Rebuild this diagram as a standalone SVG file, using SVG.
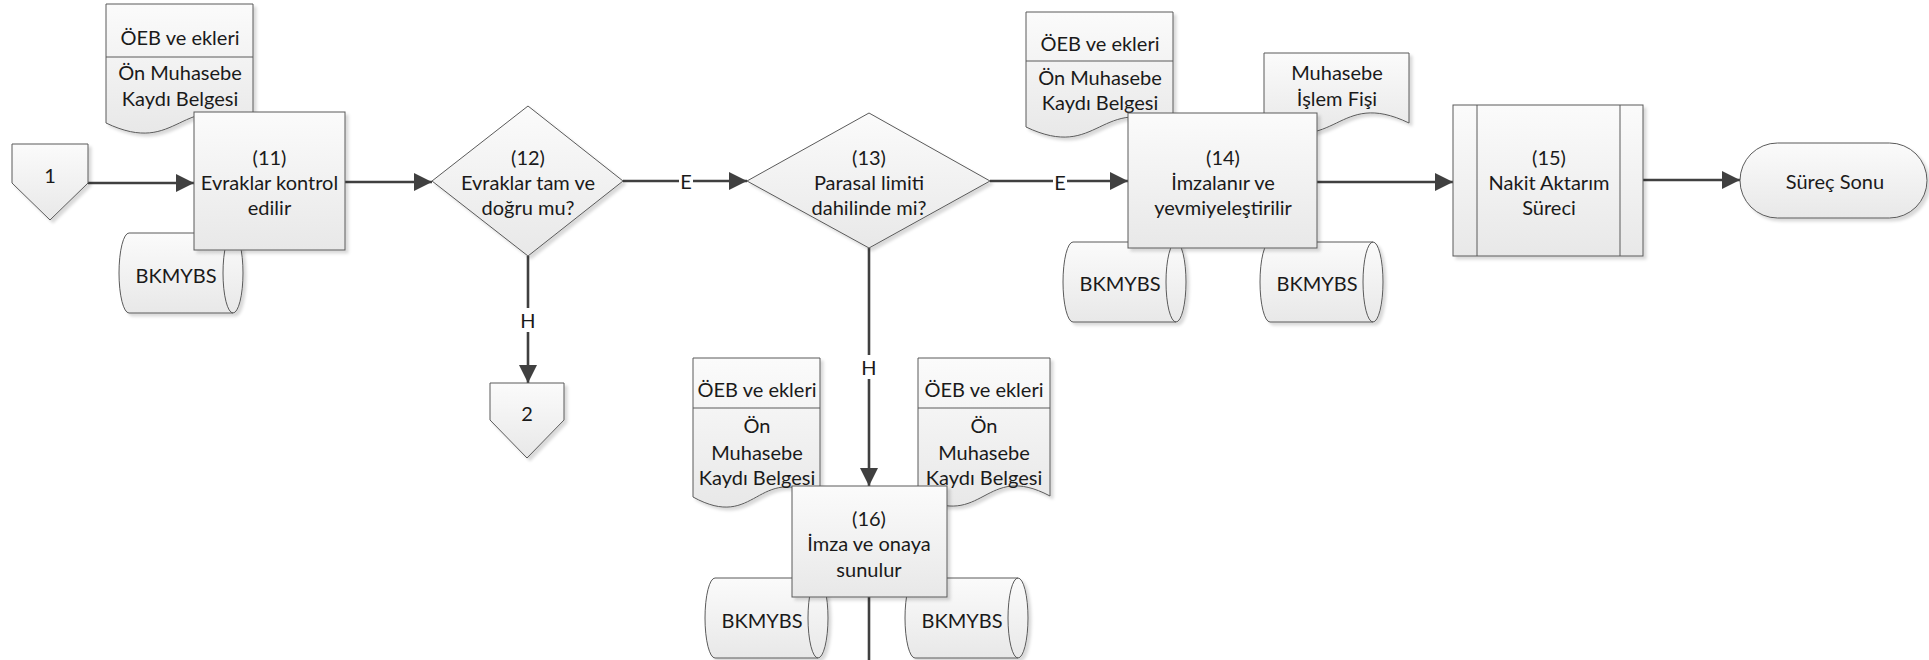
<svg xmlns="http://www.w3.org/2000/svg" width="1929" height="660" viewBox="0 0 1929 660">
<defs>
<linearGradient id="g" x1="0" y1="0" x2="0" y2="1">
<stop offset="0" stop-color="#fbfbfb"/>
<stop offset="1" stop-color="#e8e8e8"/>
</linearGradient>
<filter id="sh" x="-10%" y="-10%" width="130%" height="130%">
<feDropShadow dx="3" dy="3" stdDeviation="1.5" flood-color="#000" flood-opacity="0.15"/>
</filter>
<marker id="ah" viewBox="0 0 10 10" refX="10" refY="5" markerUnits="userSpaceOnUse" markerWidth="19" markerHeight="18" orient="auto">
<path d="M0,0 L10,5 L0,10 Z" fill="#404040"/>
</marker>
<style>
.s{fill:url(#g);stroke:#5a5a5a;stroke-width:1;filter:url(#sh)}
.ln{fill:none;stroke:#5a5a5a;stroke-width:1}
.t{font-family:Lato,"Liberation Sans",sans-serif;font-size:20px;fill:#1a1a1a;text-anchor:middle;dominant-baseline:central}
.c{fill:none;stroke:#404040;stroke-width:2.6}
.lb{fill:#ffffff}
</style>
</defs>

<!-- documents (behind boxes) -->
<g id="doc-oeb-11">
<path class="s" d="M106,4 H253 V123 C179.5,88 179.5,158 106,123 Z"/>
<line class="ln" x1="106" y1="57" x2="253" y2="57"/>
<text class="t" x="180" y="37">ÖEB ve ekleri</text>
<text class="t" x="180" y="72">Ön Muhasebe</text>
<text class="t" x="180" y="98">Kaydı Belgesi</text>
</g>
<g id="doc-oeb-14">
<path class="s" d="M1026,12 H1173 V127 C1099.5,92 1099.5,162 1026,127 Z"/>
<line class="ln" x1="1026" y1="61" x2="1173" y2="61"/>
<text class="t" x="1100" y="43">ÖEB ve ekleri</text>
<text class="t" x="1100" y="77">Ön Muhasebe</text>
<text class="t" x="1100" y="102">Kaydı Belgesi</text>
</g>
<g id="doc-muhasebe-fis">
<path class="s" d="M1264,53 H1409 V123 C1336.5,88 1336.5,158 1264,123 Z"/>
<text class="t" x="1337" y="72">Muhasebe</text>
<text class="t" x="1337" y="98">İşlem Fişi</text>
</g>
<g id="doc-oeb-16a">
<path class="s" d="M693,358 H820 V497 C756.5,462 756.5,532 693,497 Z"/>
<line class="ln" x1="693" y1="408" x2="820" y2="408"/>
<text class="t" x="757" y="389">ÖEB ve ekleri</text>
<text class="t" x="757" y="425">Ön</text>
<text class="t" x="757" y="452">Muhasebe</text>
<text class="t" x="757" y="477">Kaydı Belgesi</text>
</g>
<g id="doc-oeb-16b">
<path class="s" d="M918,358 H1050 V496 C984,461 984,531 918,496 Z"/>
<line class="ln" x1="918" y1="408" x2="1050" y2="408"/>
<text class="t" x="984" y="389">ÖEB ve ekleri</text>
<text class="t" x="984" y="425">Ön</text>
<text class="t" x="984" y="452">Muhasebe</text>
<text class="t" x="984" y="477">Kaydı Belgesi</text>
</g>

<!-- databases -->
<g id="db-11">
<path class="s" d="M129,233 L233,233 A10,40 0 0 1 233,313 L129,313 A10,40 0 0 1 129,233 Z"/>
<path class="ln" d="M233,233 A10,40 0 0 0 233,313"/>
<text class="t" x="176" y="275">BKMYBS</text>
</g>
<g id="db-14a">
<path class="s" d="M1073,242 L1176,242 A10,40 0 0 1 1176,322 L1073,322 A10,40 0 0 1 1073,242 Z"/>
<path class="ln" d="M1176,242 A10,40 0 0 0 1176,322"/>
<text class="t" x="1120" y="283">BKMYBS</text>
</g>
<g id="db-14b">
<path class="s" d="M1270,242 L1373,242 A10,40 0 0 1 1373,322 L1270,322 A10,40 0 0 1 1270,242 Z"/>
<path class="ln" d="M1373,242 A10,40 0 0 0 1373,322"/>
<text class="t" x="1317" y="283">BKMYBS</text>
</g>
<g id="db-16a">
<path class="s" d="M715,578 L818,578 A10,40 0 0 1 818,658 L715,658 A10,40 0 0 1 715,578 Z"/>
<path class="ln" d="M818,578 A10,40 0 0 0 818,658"/>
<text class="t" x="762" y="620">BKMYBS</text>
</g>
<g id="db-16b">
<path class="s" d="M915,578 L1018,578 A10,40 0 0 1 1018,658 L915,658 A10,40 0 0 1 915,578 Z"/>
<path class="ln" d="M1018,578 A10,40 0 0 0 1018,658"/>
<text class="t" x="962" y="620">BKMYBS</text>
</g>

<!-- connectors -->
<g id="connectors">
<line class="c" x1="88" y1="183" x2="194" y2="183" marker-end="url(#ah)"/>
<line class="c" x1="345" y1="182" x2="432" y2="182" marker-end="url(#ah)"/>
<line class="c" x1="623" y1="181" x2="747" y2="181" marker-end="url(#ah)"/>
<line class="c" x1="528" y1="256" x2="528" y2="383" marker-end="url(#ah)"/>
<line class="c" x1="990" y1="181" x2="1128" y2="181" marker-end="url(#ah)"/>
<line class="c" x1="869" y1="248" x2="869" y2="486" marker-end="url(#ah)"/>
<line class="c" x1="1317" y1="182" x2="1453" y2="182" marker-end="url(#ah)"/>
<line class="c" x1="1643" y1="180" x2="1740" y2="180" marker-end="url(#ah)"/>
<line class="c" x1="869" y1="597" x2="869" y2="662"/>
<rect class="lb" x="679" y="170" width="14" height="22"/>
<text class="t" x="686" y="181">E</text>
<rect class="lb" x="1053" y="170" width="14" height="22"/>
<text class="t" x="1060" y="182">E</text>
<rect class="lb" x="520" y="308" width="16" height="24"/>
<text class="t" x="528" y="320">H</text>
<rect class="lb" x="861" y="355" width="16" height="24"/>
<text class="t" x="869" y="367">H</text>
</g>

<!-- flow nodes -->
<g id="offpage-1">
<path class="s" d="M12,144 H88 V183 L50,220 L12,183 Z"/>
<text class="t" x="50" y="175">1</text>
</g>
<g id="process-11">
<rect class="s" x="194" y="112" width="151" height="138"/>
<text class="t" x="269.5" y="157">(11)</text>
<text class="t" x="269.5" y="182">Evraklar kontrol</text>
<text class="t" x="269.5" y="207">edilir</text>
</g>
<g id="decision-12">
<path class="s" d="M432,181 L528,106 L623,181 L528,256 Z"/>
<text class="t" x="528" y="157">(12)</text>
<text class="t" x="528" y="182">Evraklar tam ve</text>
<text class="t" x="528" y="207">doğru mu?</text>
</g>
<g id="offpage-2">
<path class="s" d="M490,383 H564 V420 L527,458 L490,420 Z"/>
<text class="t" x="527" y="413">2</text>
</g>
<g id="decision-13">
<path class="s" d="M747,181 L869,113 L990,181 L869,248 Z"/>
<text class="t" x="869" y="157">(13)</text>
<text class="t" x="869" y="182">Parasal limiti</text>
<text class="t" x="869" y="207">dahilinde mi?</text>
</g>
<g id="process-14">
<rect class="s" x="1128" y="113" width="189" height="135"/>
<text class="t" x="1223" y="157">(14)</text>
<text class="t" x="1223" y="182">İmzalanır ve</text>
<text class="t" x="1223" y="207">yevmiyeleştirilir</text>
</g>
<g id="subprocess-15">
<rect class="s" x="1453" y="105" width="190" height="151"/>
<line class="ln" x1="1477" y1="105" x2="1477" y2="256"/>
<line class="ln" x1="1620" y1="105" x2="1620" y2="256"/>
<text class="t" x="1549" y="157">(15)</text>
<text class="t" x="1549" y="182">Nakit Aktarım</text>
<text class="t" x="1549" y="207">Süreci</text>
</g>
<g id="terminal-end">
<rect class="s" x="1740" y="143" width="187" height="75" rx="37.5" ry="37.5"/>
<text class="t" x="1835" y="181">Süreç Sonu</text>
</g>
<g id="process-16">
<rect class="s" x="792" y="486" width="155" height="111"/>
<text class="t" x="869" y="518">(16)</text>
<text class="t" x="869" y="543">İmza ve onaya</text>
<text class="t" x="869" y="569">sunulur</text>
</g>
</svg>
